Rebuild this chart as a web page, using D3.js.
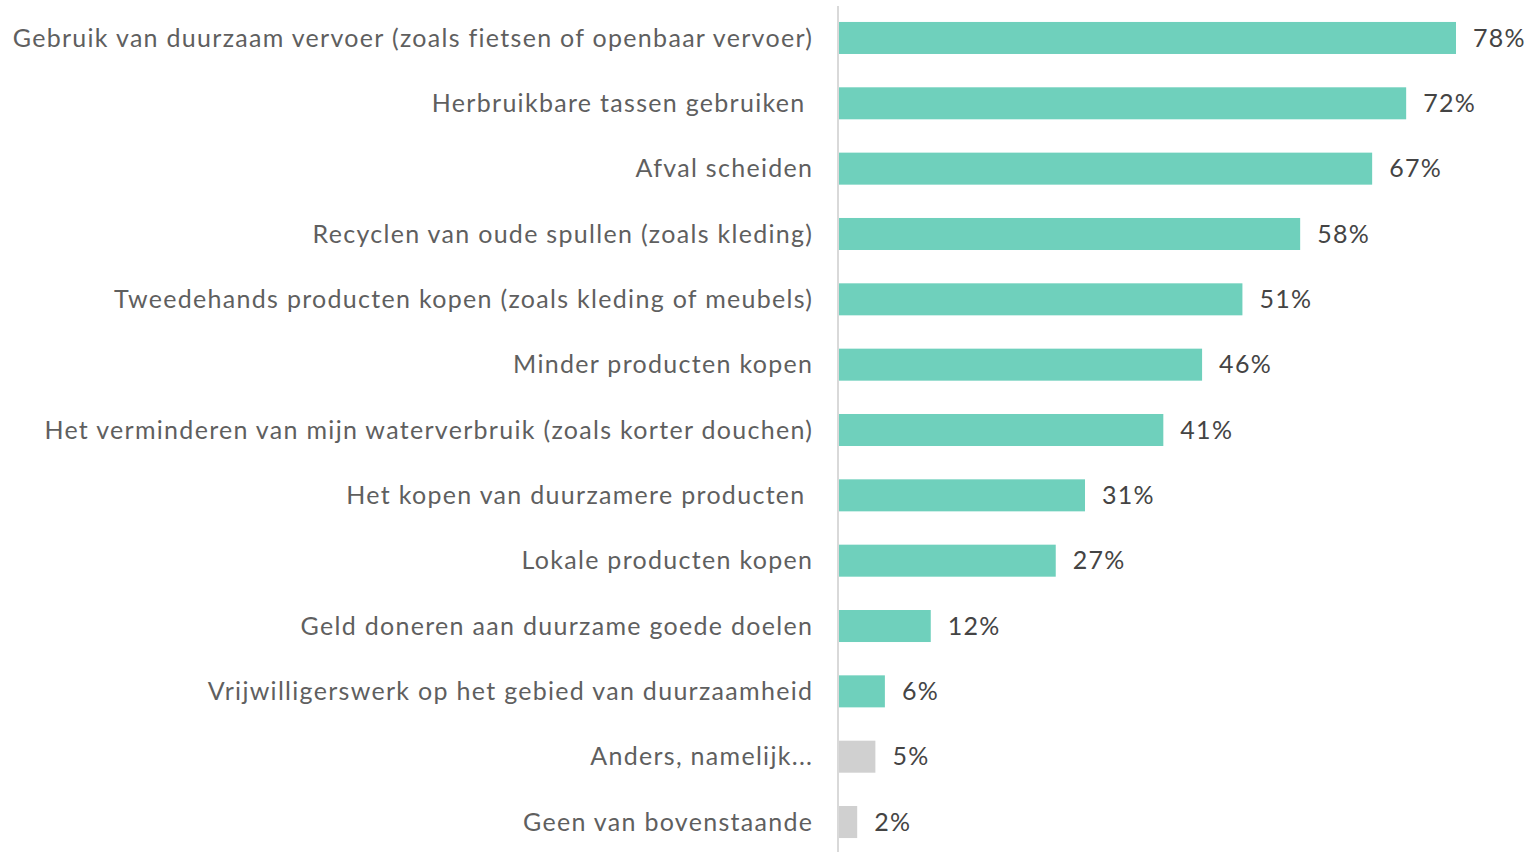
<!DOCTYPE html>
<html>
<head>
<meta charset="utf-8">
<script src="https://cdn.jsdelivr.net/npm/d3@7"></script>
<style>
  body { margin: 0; background: #fff; }
  text { font-family: Lato, "Noto Sans", sans-serif; white-space: pre; font-variant-ligatures: none; letter-spacing: 1.3px; }
</style>
</head>
<body>
<div id="chart"></div>
<script>
const categories = [
  'Gebruik van duurzaam vervoer (zoals fietsen of openbaar vervoer)',
  'Herbruikbare tassen gebruiken ',
  'Afval scheiden',
  'Recyclen van oude spullen (zoals kleding)',
  'Tweedehands producten kopen (zoals kleding of meubels)',
  'Minder producten kopen',
  'Het verminderen van mijn waterverbruik (zoals korter douchen)',
  'Het kopen van duurzamere producten ',
  'Lokale producten kopen',
  'Geld doneren aan duurzame goede doelen',
  'Vrijwilligerswerk op het gebied van duurzaamheid',
  'Anders, namelijk...',
  'Geen van bovenstaande'
];
// percentages (labels show them rounded)
const values = [78, 71.7, 67.4, 58.3, 51, 45.9, 41, 31.1, 27.4, 11.6, 5.8, 4.6, 2.3];
const greyItems = ['Anders, namelijk...', 'Geen van bovenstaande'];

const width = 1529, height = 852;
const axisX = 838;

const svg = d3.select('#chart').append('svg')
  .attr('width', width)
  .attr('height', height);

const xScale = d3.scaleLinear()
  .domain([0, 78])
  .range([axisX + 1, 1456]);

const yScale = d3.scaleBand()
  .domain(categories)
  .range([5.3, 854.7])
  .paddingInner(0.51)
  .paddingOuter(0.255);

const fmt = d3.format('.0f');
const rows = categories.map((c, i) => ({ label: c, value: values[i] }));

svg.selectAll('rect.bar')
  .data(rows)
  .enter()
  .append('rect')
  .attr('class', 'bar')
  .attr('x', xScale(0))
  .attr('y', d => yScale(d.label))
  .attr('width', d => xScale(d.value) - xScale(0))
  .attr('height', yScale.bandwidth())
  .style('fill', d => greyItems.includes(d.label) ? '#d0d0d0' : '#6fd0bc');

// category labels (letter-spacing adds a trailing gap, so shift right a bit)
svg.selectAll('text.cat')
  .data(rows)
  .enter()
  .append('text')
  .attr('class', 'cat')
  .attr('x', axisX - 26 + 1.3)
  .attr('y', d => yScale(d.label) + yScale.bandwidth() / 2)
  .attr('dy', '0.35em')
  .attr('text-anchor', 'end')
  .style('font-size', '25px')
  .style('fill', '#5f5f5f')
  .text(d => d.label);

// value labels
svg.selectAll('text.val')
  .data(rows)
  .enter()
  .append('text')
  .attr('class', 'val')
  .attr('x', d => xScale(d.value) + 17)
  .attr('y', d => yScale(d.label) + yScale.bandwidth() / 2)
  .attr('dy', '0.35em')
  .style('font-size', '25px')
  .style('fill', '#444')
  .text(d => fmt(d.value) + '%');

// vertical axis line
svg.append('line')
  .attr('x1', axisX).attr('x2', axisX)
  .attr('y1', 6).attr('y2', height)
  .style('stroke', '#d9d9d9')
  .style('stroke-width', 2);
</script>
</body>
</html>
